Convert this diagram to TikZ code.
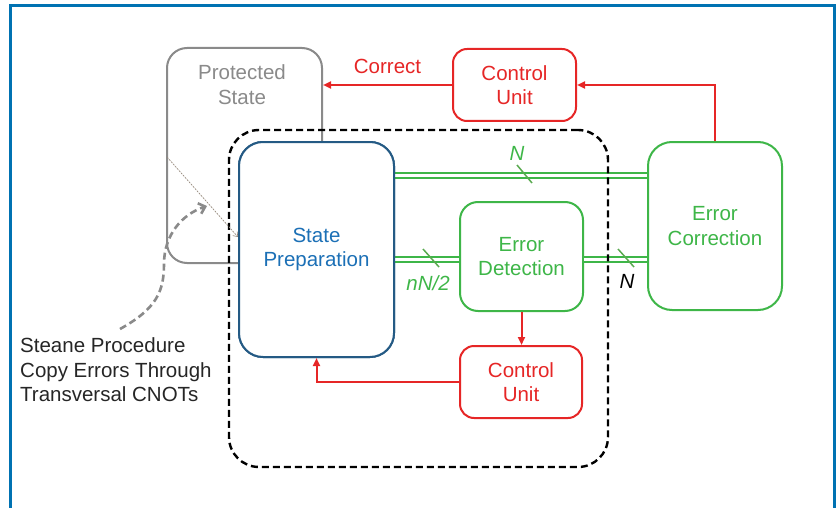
\documentclass[tikz,border=0pt]{standalone}
\usepackage{fontspec}
\setmainfont{Liberation Sans}
\usetikzlibrary{arrows.meta,calc}

\definecolor{framebl}{RGB}{0,114,178}
\definecolor{protgray}{RGB}{138,138,138}
\definecolor{prepline}{RGB}{36,90,132}
\definecolor{preptext}{RGB}{28,112,182}
\definecolor{qgreen}{RGB}{62,182,72}
\definecolor{slashgreen}{RGB}{90,170,80}
\definecolor{ctrlred}{RGB}{230,38,38}
\definecolor{notegray}{RGB}{38,38,38}

\tikzset{
  box/.style={draw, rounded corners=#1, line width=2pt, align=center,
              inner sep=0pt, fill=white},
  box/.default=20pt,
  ctrlbox/.style={box=14pt, draw=ctrlred, text=ctrlred},
  greenbox/.style={box=#1, draw=qgreen, text=qgreen},
  bus/.style={draw=qgreen, line width=1.7pt, double=white, double distance=3.4pt},
  slash/.style={draw=slashgreen, line width=1.5pt},
  ctrlarrow/.style={draw=ctrlred, line width=2pt,
                    -{Triangle[length=8pt,width=7pt]}},
  buslabel/.style={font=\fontsize{20.5}{24.5}\selectfont\itshape, inner sep=0pt},
}

\begin{document}
\begin{tikzpicture}[x=1pt, y=-1pt, font=\fontsize{20.5}{24.5}\selectfont]
\useasboundingbox (0,0) rectangle (837,508);
\clip (0,0) rectangle (837,508);

% outer frame (open at the bottom)
\draw[framebl, line width=3pt] (10,520) -- (10,5.5) -- (834,5.5) -- (834,520);

% protected state, partly hidden behind the preparation block
\node[box=20pt, draw=protgray, minimum width=155pt, minimum height=215pt]
  (prot) at (244.5,155.5) {};
\node[text=protgray, align=center, inner sep=0pt] (protlabel) at (242,84.5)
  {Protected\\State};

% quantum buses
\coordinate (topbus) at (0,175.5);
\coordinate (midbus) at (0,259.5);

% detection and correction blocks
\node[greenbox=18pt, minimum width=123pt, minimum height=109pt]
  (ed) at (521.5,256.5) {Error\\Detection};
\node[greenbox=24pt, minimum width=134pt, minimum height=168pt]
  (ec) at (715,226) {Error\\Correction};

% preparation block
\node[box=24pt, draw=prepline, text=preptext, minimum width=155pt, minimum height=215pt]
  (sp) at (316.5,249.5) {State\\Preparation};

\draw[bus] (sp.east |- topbus) -- (ec.west |- topbus);
\draw[bus] (sp.east |- midbus) -- (ed.west |- midbus);
\draw[bus] (ed.east |- midbus) -- (ec.west |- midbus);

% bundle markers
\coordinate (s1) at (524.5,174);
\coordinate (s2) at (431,258);
\coordinate (s3) at (626,258);
\draw[slash] ($(s1)+(-7.5,-9)$) -- ($(s1)+(7.5,9)$);
\draw[slash] ($(s2)+(-8,-9)$) -- ($(s2)+(8,9)$);
\draw[slash] ($(s3)+(-8,-9)$) -- ($(s3)+(8,9)$);
\node[buslabel, text=qgreen] (n1) at (517,153) {N};
\node[buslabel, text=qgreen] (n2) at (428,283) {nN/2};
\node[buslabel, text=black] (n3) at (627,281) {N};

% dashed enclosure of the Steane procedure
\node[draw=black, dash pattern=on 7pt off 4pt, line width=2.4pt, rounded corners=30pt,
      minimum width=379pt, minimum height=337pt, inner sep=0pt]
  (steanebox) at (418.5,298.5) {};
\node[box=24pt, draw=prepline, text=preptext, minimum width=155pt, minimum height=215pt]
  at (316.5,249.5) {State\\Preparation};

% control units
\node[ctrlbox, minimum width=123pt, minimum height=72pt] (cu1) at (514.5,85) {Control\\Unit};
\node[ctrlbox, minimum width=122pt, minimum height=72pt] (cu2) at (521,382) {Control\\Unit};

\draw[ctrlarrow] (ec.north) |- (cu1.east);
\draw[ctrlarrow] (cu1.west) -- (cu1.west -| prot.east);
\node[text=ctrlred, inner sep=0pt] (corr) at (387.5,66) {Correct};
\draw[ctrlarrow] (ed.south) -- (ed.south |- cu2.north);
\draw[ctrlarrow] (cu2.west) -| (sp.south);

% note on the transversal CNOT copy
\node[text=notegray, align=left, anchor=west, inner sep=0pt] (note) at (20,370)
  {Steane Procedure\\Copy Errors Through\\Transversal CNOTs};
\coordinate (notetop) at (120,329);
\coordinate (cnottip) at (207,206);
\draw[protgray, line width=2.6pt, dash pattern=on 7pt off 4pt,
      -{Straight Barb[length=6pt,width=11pt]}]
  (notetop) .. controls (156,309) and (164,292) .. (164,264)
            .. controls (164,234) and (183,214) .. (cnottip);

% thin copy line into the preparation block
\coordinate (copystart) at (167,157);
\draw[protgray!80!brown, line width=0.6pt, dash pattern=on 2pt off 1pt,
      -{Straight Barb[length=4pt,width=6pt]}]
  (copystart) -- (sp.west |- 0,237);
\end{tikzpicture}
\end{document}
